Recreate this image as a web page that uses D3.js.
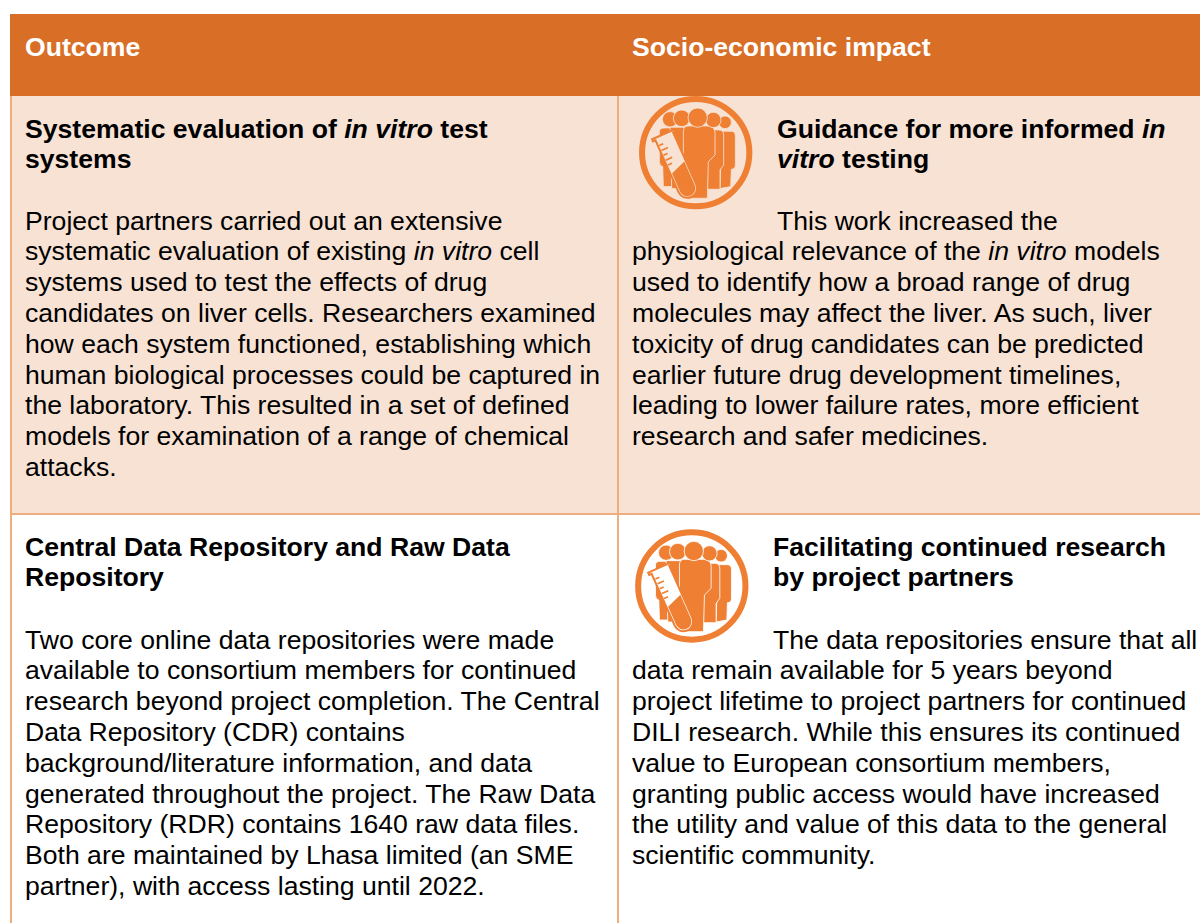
<!DOCTYPE html>
<html>
<head>
<meta charset="utf-8">
<script src="https://cdn.jsdelivr.net/npm/d3@7"></script>
<style>
html, body { margin: 0; padding: 0; background: #fff; }
svg { display: block; }
text { font-family: "Liberation Sans", Arial, sans-serif; font-size: 26.6px; fill: #000; }
</style>
</head>
<body>
<svg width="1200" height="923"></svg>
<script>
// table content, *word* means italic
const headers = ['Outcome', 'Socio-economic impact'];
const outcomeTitles = [
  ['Systematic evaluation of *in vitro* test', 'systems'],
  ['Central Data Repository and Raw Data', 'Repository']
];
const outcomeBodies = [
  ['Project partners carried out an extensive',
   'systematic evaluation of existing *in vitro* cell',
   'systems used to test the effects of drug',
   'candidates on liver cells. Researchers examined',
   'how each system functioned, establishing which',
   'human biological processes could be captured in',
   'the laboratory. This resulted in a set of defined',
   'models for examination of a range of chemical',
   'attacks.'],
  ['Two core online data repositories were made',
   'available to consortium members for continued',
   'research beyond project completion. The Central',
   'Data Repository (CDR) contains',
   'background/literature information, and data',
   'generated throughout the project. The Raw Data',
   'Repository (RDR) contains 1640 raw data files.',
   'Both are maintained by Lhasa limited (an SME',
   'partner), with access lasting until 2022.']
];
const impactTitles = [
  ['Guidance for more informed *in*', '*vitro* testing'],
  ['Facilitating continued research', 'by project partners']
];
const impactBodies = [
  ['This work increased the',
   'physiological relevance of the *in vitro* models',
   'used to identify how a broad range of drug',
   'molecules may affect the liver. As such, liver',
   'toxicity of drug candidates can be predicted',
   'earlier future drug development timelines,',
   'leading to lower failure rates, more efficient',
   'research and safer medicines.'],
  ['The data repositories ensure that all',
   'data remain available for 5 years beyond',
   'project lifetime to project partners for continued',
   'DILI research. While this ensures its continued',
   'value to European consortium members,',
   'granting public access would have increased',
   'the utility and value of this data to the general',
   'scientific community.']
];

const svg = d3.select('svg');
const tableLeft = 10, colSplit = 618, tableRight = 1200;
const rowTops = [14, 96, 514, 923];
const titleBase = [137.6, 555.6];
const bodyBase = [229.6, 648.6];
const impactIndent = [777, 773];
const iconCentre = [[695.7, 152.6], [691.8, 586]];
const textLeft = [25, 632];
const lineY = d3.scaleLinear().domain([0, 1]).range([0, 30.8]);

const headerFill = '#d96f27', rowFill = '#f7e2d4', rule = '#efac7e', iconFill = '#ee7f33';

// backgrounds
svg.append('rect').attr('x', tableLeft).attr('y', rowTops[0]).attr('width', tableRight - tableLeft)
  .attr('height', rowTops[1] - rowTops[0]).attr('fill', headerFill);
svg.append('rect').attr('x', tableLeft).attr('y', rowTops[1]).attr('width', tableRight - tableLeft)
  .attr('height', rowTops[2] - rowTops[1]).attr('fill', rowFill);

// rules
const vRules = [tableLeft + 1, colSplit];
svg.selectAll('.vrule').data(vRules).enter().append('line').attr('class', 'vrule')
  .attr('x1', d => d).attr('x2', d => d)
  .attr('y1', rowTops[1]).attr('y2', rowTops[3])
  .attr('stroke', rule).attr('stroke-width', 2);
svg.append('line').attr('x1', tableLeft).attr('x2', tableRight)
  .attr('y1', rowTops[2]).attr('y2', rowTops[2])
  .attr('stroke', rule).attr('stroke-width', 2);

// writes one line, splitting on * for italic runs
function writeLine(parent, str, x, y, bold, fill) {
  const t = parent.append('text').attr('x', x).attr('y', y)
    .attr('xml:space', 'preserve')
    .attr('font-weight', bold ? 'bold' : 'normal');
  if (fill) t.style('fill', fill);
  str.split('*').forEach((part, i) => {
    if (part) t.append('tspan').attr('font-style', i % 2 ? 'italic' : 'normal').text(part);
  });
}

headers.forEach((h, i) => writeLine(svg, h, textLeft[i], 56, true, '#fff'));

outcomeTitles.forEach((lines, r) => {
  lines.forEach((l, i) => writeLine(svg, l, textLeft[0], titleBase[r] + lineY(i), true));
  outcomeBodies[r].forEach((l, i) => writeLine(svg, l, textLeft[0], bodyBase[r] + lineY(i), false));
  impactTitles[r].forEach((l, i) => writeLine(svg, l, impactIndent[r], titleBase[r] + lineY(i), true));
  impactBodies[r].forEach((l, i) =>
    writeLine(svg, l, i === 0 ? impactIndent[r] : textLeft[1], bodyBase[r] + lineY(i), false));
});

// people + test tube icon, drawn in a 3x box around the circle centre
function drawIcon(cx, cy, bg) {
  const g = svg.append('g').attr('transform', `translate(${cx},${cy}) scale(0.3333) translate(-227,-188)`);
  g.append('circle').attr('cx', 227).attr('cy', 188).attr('r', 161)
    .attr('fill', bg).attr('stroke', iconFill).attr('stroke-width', 18);
  // back row first, front figure last
  const bodies = [
    'M305,124 L334,124 Q346,124 346,138 L346,225 Q346,238 334,238 L332,290 L300,296 Z',
    'M118,126 Q118,114 132,114 L190,114 L190,290 L130,290 L128,230 Q118,228 118,215 Z',
    'M150,112 L215,112 L215,296 L155,296 Z',
    'M262,120 L296,120 Q311,120 311,136 L311,225 L300,240 L300,298 L262,298 Z',
    'M205,108 L262,108 Q285,108 285,130 L285,195 L265,215 L262,325 L190,325 L190,125 Q190,108 205,108 Z'
  ];
  const heads = [[315, 97, 19], [280, 90, 23], [150, 88, 23], [185, 85, 25], [233, 83, 29]];
  bodies.forEach(d => g.append('path').attr('d', d).attr('fill', iconFill).attr('stroke', bg).attr('stroke-width', 2.5));
  heads.forEach(([hx, hy, hr]) => g.append('circle').attr('cx', hx).attr('cy', hy).attr('r', hr)
    .attr('fill', iconFill).attr('stroke', bg).attr('stroke-width', 2.5));
  // tube
  const tube = g.append('g').attr('transform', 'translate(130,133) rotate(-24)');
  tube.append('path').attr('d', 'M-37,0 L37,0 L37,7 L29,7 L29,177 A29,29 0 0 1 -29,177 L-29,7 L-37,7 Z')
    .attr('fill', bg).attr('stroke', iconFill).attr('stroke-width', 6);
  tube.append('path').attr('d', 'M-24,118 L24,100 L24,177 A24,24 0 0 1 -24,177 Z').attr('fill', iconFill);
  tube.selectAll('.tick').data([26, 42, 58, 74, 90]).enter().append('line').attr('class', 'tick')
    .attr('x1', -25).attr('x2', (d, i) => (i % 2 ? -4 : -12)).attr('y1', d => d).attr('y2', d => d)
    .attr('stroke', iconFill).attr('stroke-width', 5);
}
drawIcon(iconCentre[0][0], iconCentre[0][1], rowFill);
drawIcon(iconCentre[1][0], iconCentre[1][1], '#fff');
</script>
</body>
</html>
